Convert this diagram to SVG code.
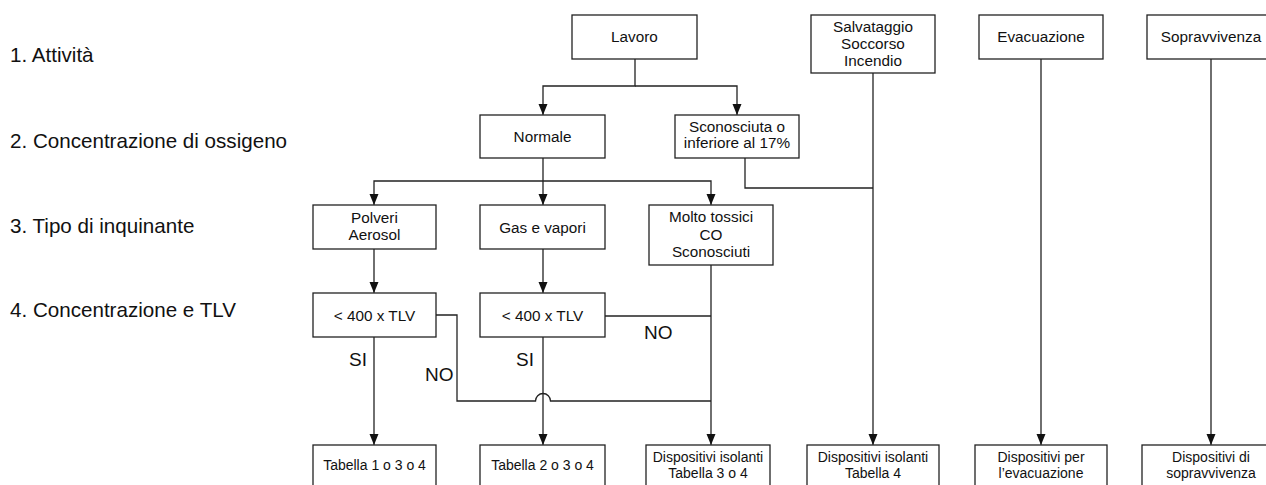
<svg xmlns="http://www.w3.org/2000/svg" width="1266" height="485" viewBox="0 0 1266 485">
<style>
.b{fill:#fff;stroke:#222;stroke-width:1.3}
.t{font-family:"Liberation Sans",Arial,sans-serif;font-size:15.3px;fill:#111;text-anchor:middle}
.s{font-family:"Liberation Sans",Arial,sans-serif;font-size:14px;fill:#111;text-anchor:middle}
.l{font-family:"Liberation Sans",Arial,sans-serif;font-size:20.6px;fill:#111}
.y{font-family:"Liberation Sans",Arial,sans-serif;font-size:19px;fill:#111}
.c{fill:none;stroke:#222;stroke-width:1.3}
</style>
<defs>
<marker id="a" markerUnits="userSpaceOnUse" markerWidth="10" markerHeight="12" refX="11" refY="4.5" orient="auto">
<path d="M0,0 L11,4.5 L0,9 z" fill="#111"/>
</marker>
</defs>
<g id="levels">
<text class="l" x="10" y="62">1. Attività</text>
<text class="l" x="10" y="148">2. Concentrazione di ossigeno</text>
<text class="l" x="10" y="233">3. Tipo di inquinante</text>
<text class="l" x="10" y="317">4. Concentrazione e TLV</text>
</g>
<g id="connectors">
<path class="c" d="M635,59 V86 H543 V115" marker-end="url(#a)"/>
<path class="c" d="M635,86 H737 V115" marker-end="url(#a)"/>
<path class="c" d="M543,158 V181"/>
<path class="c" d="M543,181 H374 V205" marker-end="url(#a)"/>
<path class="c" d="M543,181 V205" marker-end="url(#a)"/>
<path class="c" d="M543,181 H711 V205" marker-end="url(#a)"/>
<path class="c" d="M745,158 V188 H873"/>
<path class="c" d="M873,73 V445" marker-end="url(#a)"/>
<path class="c" d="M1041,59 V445" marker-end="url(#a)"/>
<path class="c" d="M1211,59 V445" marker-end="url(#a)"/>
<path class="c" d="M374,249 V293" marker-end="url(#a)"/>
<path class="c" d="M543,249 V293" marker-end="url(#a)"/>
<path class="c" d="M374,337 V445" marker-end="url(#a)"/>
<path class="c" d="M543,337 V445" marker-end="url(#a)"/>
<path class="c" d="M711,265 V445" marker-end="url(#a)"/>
<path class="c" d="M436,315 H457 V401 H535.5 A7.5,7.5 0 0 1 550.5,401 H711"/>
<path class="c" d="M605,316 H711"/>
<text class="y" x="349" y="366">SI</text>
<text class="y" x="516" y="366">SI</text>
<text class="y" x="425" y="381">NO</text>
<text class="y" x="644" y="339">NO</text>
</g>
<g id="lavoro"><rect class="b" x="572" y="15" width="125" height="44"/><text class="t" x="634.5" y="42">Lavoro</text></g>
<g id="salvataggio"><rect class="b" x="811" y="15" width="124" height="58"/><text class="t" x="873" y="32">Salvataggio</text><text class="t" x="873" y="49">Soccorso</text><text class="t" x="873" y="66">Incendio</text></g>
<g id="evacuazione"><rect class="b" x="979" y="15" width="124" height="44"/><text class="t" x="1041" y="42">Evacuazione</text></g>
<g id="sopravvivenza"><rect class="b" x="1147" y="15" width="128" height="44"/><text class="t" x="1211" y="42">Sopravvivenza</text></g>
<g id="normale"><rect class="b" x="480" y="115" width="125" height="43"/><text class="t" x="542.5" y="142">Normale</text></g>
<g id="sconosciuta"><rect class="b" x="675" y="115" width="124" height="43"/><text class="t" x="737" y="132">Sconosciuta o</text><text class="t" x="737" y="148">inferiore al 17%</text></g>
<g id="polveri"><rect class="b" x="313" y="205" width="123" height="44"/><text class="t" x="374.5" y="223">Polveri</text><text class="t" x="374.5" y="240">Aerosol</text></g>
<g id="gas"><rect class="b" x="480" y="205" width="125" height="44"/><text class="t" x="542.5" y="233">Gas e vapori</text></g>
<g id="molto"><rect class="b" x="649" y="205" width="124" height="60"/><text class="t" x="711" y="222">Molto tossici</text><text class="t" x="711" y="240">CO</text><text class="t" x="711" y="257">Sconosciuti</text></g>
<g id="tlv1"><rect class="b" x="313" y="293" width="123" height="44"/><text class="t" x="374.5" y="321">&lt; 400 x TLV</text></g>
<g id="tlv2"><rect class="b" x="480" y="293" width="125" height="44"/><text class="t" x="542.5" y="321">&lt; 400 x TLV</text></g>
<g id="tab1"><rect class="b" x="313" y="445" width="123" height="44"/><text class="s" x="374.5" y="470">Tabella 1 o 3 o 4</text></g>
<g id="tab2"><rect class="b" x="480" y="445" width="125" height="44"/><text class="s" x="542.5" y="470">Tabella 2 o 3 o 4</text></g>
<g id="isol34"><rect class="b" x="646" y="445" width="124" height="44"/><text class="s" x="708" y="462">Dispositivi isolanti</text><text class="s" x="708" y="478">Tabella 3 o 4</text></g>
<g id="isol4"><rect class="b" x="807" y="445" width="132" height="44"/><text class="s" x="873" y="462">Dispositivi isolanti</text><text class="s" x="873" y="478">Tabella 4</text></g>
<g id="disp-evac"><rect class="b" x="975" y="445" width="132" height="44"/><text class="s" x="1041" y="462">Dispositivi per</text><text class="s" x="1041" y="478">l’evacuazione</text></g>
<g id="disp-sopr"><rect class="b" x="1142" y="445" width="138" height="44"/><text class="s" x="1211" y="462">Dispositivi di</text><text class="s" x="1211" y="478">sopravvivenza</text></g>
</svg>
